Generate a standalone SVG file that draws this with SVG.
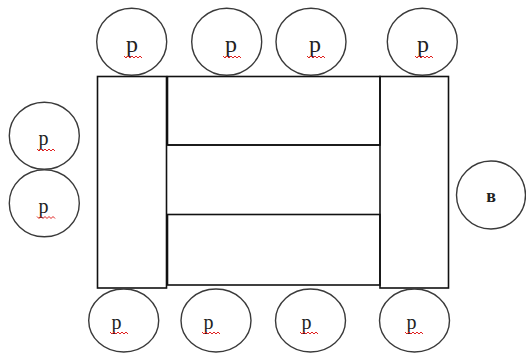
<svg xmlns="http://www.w3.org/2000/svg" width="526" height="353" viewBox="0 0 526 353">
<style>
.c{fill:#fff;stroke:#3a3a3a;stroke-width:1.4}
.r{fill:none;stroke:#111;stroke-width:1.6}
.t{font-family:"Liberation Serif","Times New Roman",serif;font-size:24px;fill:#222;text-anchor:middle}
.s{font-size:20px}
.b{font-family:"Liberation Serif","Times New Roman",serif;font-size:18px;font-weight:bold;fill:#222;text-anchor:middle}
.w{fill:none;stroke:#e02020;stroke-width:1}
</style>
<defs>
<path id="sq" d="M0 0 l2 2 l2 -2 l2 2 l2 -2 l2 2 l2 -2 l2 2 l2 -2 l2 2"/>
</defs>
<g id="table">
<rect class="r" x="97.5" y="76.5" width="69" height="211.5"/>
<rect class="r" x="167.5" y="76.5" width="212.5" height="68.5"/>
<rect class="r" x="167.5" y="214.5" width="212.5" height="70.5"/>
<line class="r" x1="167.5" y1="145" x2="380" y2="145"/>
<rect class="r" x="380" y="76.5" width="68.5" height="211.5"/>
</g>
<g id="connectors"></g>
<g id="top1"><ellipse class="c" cx="131.7" cy="41.7" rx="35" ry="33.5"/><text class="t" x="132" y="51.5">р</text><use class="w" href="#sq" x="124" y="56"/></g>
<g id="top2"><ellipse class="c" cx="226.7" cy="41.7" rx="35" ry="33.5"/><text class="t" x="231" y="51.5">р</text><use class="w" href="#sq" x="223" y="56"/></g>
<g id="top3"><ellipse class="c" cx="311" cy="41.7" rx="35" ry="33.5"/><text class="t" x="315" y="51.5">р</text><use class="w" href="#sq" x="307" y="56"/></g>
<g id="top4"><ellipse class="c" cx="422.3" cy="41.7" rx="35" ry="33.5"/><text class="t" x="423" y="51.5">р</text><use class="w" href="#sq" x="415" y="56"/></g>
<g id="left1"><ellipse class="c" cx="44.3" cy="135.8" rx="35" ry="33.5"/><text class="t s" x="43.5" y="145">р</text><use class="w" href="#sq" x="37" y="149"/></g>
<g id="left2"><ellipse class="c" cx="44.3" cy="203.3" rx="35" ry="33.5"/><text class="t s" x="43.5" y="212.5">р</text><use class="w" href="#sq" x="37" y="216.5"/></g>
<g id="right1"><ellipse class="c" cx="491" cy="195" rx="34.5" ry="34"/><text class="b" x="491" y="202">в</text></g>
<g id="bot1"><ellipse class="c" cx="123.7" cy="320.5" rx="35" ry="31.5"/><text class="t s" x="116.5" y="328.5">р</text><use class="w" href="#sq" x="110" y="332"/></g>
<g id="bot2"><ellipse class="c" cx="216" cy="320.5" rx="35" ry="31.5"/><text class="t s" x="208.5" y="328.5">р</text><use class="w" href="#sq" x="202" y="332"/></g>
<g id="bot3"><ellipse class="c" cx="310.5" cy="320.5" rx="35" ry="31.5"/><text class="t s" x="306.5" y="328.5">р</text><use class="w" href="#sq" x="300" y="332"/></g>
<g id="bot4"><ellipse class="c" cx="414.5" cy="320.5" rx="35" ry="31.5"/><text class="t s" x="411.5" y="328.5">р</text><use class="w" href="#sq" x="405" y="332"/></g>
</svg>
